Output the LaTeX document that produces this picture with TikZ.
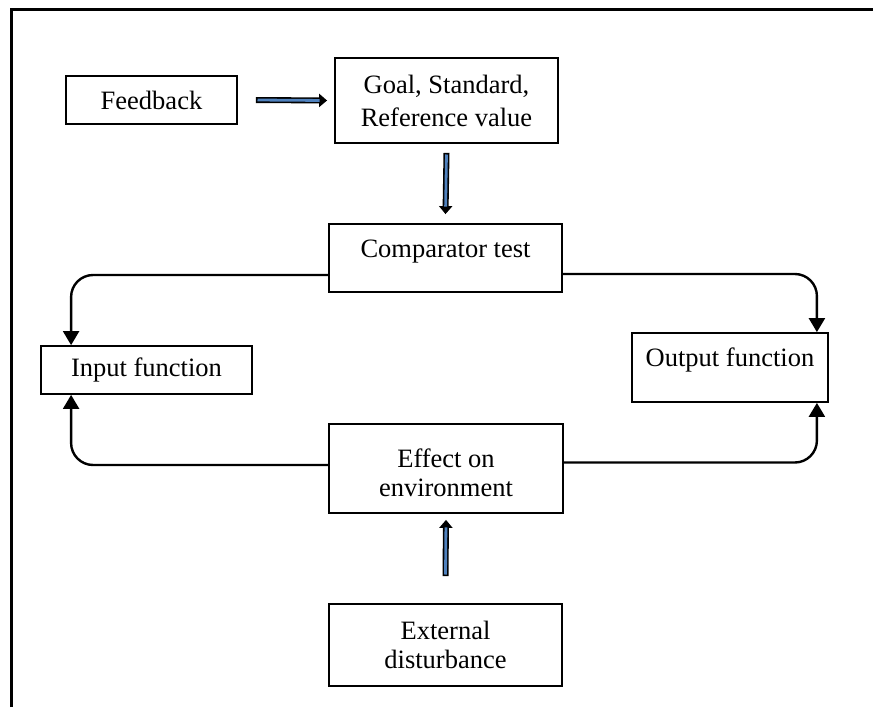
\documentclass[tikz,border=0pt]{standalone}
\usepackage{fontspec}
\setmainfont{Liberation Serif}
\usetikzlibrary{arrows.meta}
\definecolor{shaftblue}{HTML}{4F81BD}
\begin{document}
\begin{tikzpicture}[x=1pt,y=-1pt,
  box/.style={draw, line width=1.8pt, inner sep=0pt, align=center,
    font=\fontsize{26.5}{29}\selectfont},
  txt/.style={inner sep=0pt, align=center, font=\fontsize{26.5}{29}\selectfont},
  loop/.style={line width=2.4pt, rounded corners=22pt,
    -{Triangle[length=14pt,width=16pt]}},
  blue arrow/.style={line width=6pt, draw=black,
    -{Triangle[length=8pt,width=13pt]},
    postaction={draw=shaftblue, line width=2.8pt, arrows=-,
      shorten >=7.5pt, shorten <=1.6pt}},
]
\useasboundingbox (0,0) rectangle (873,707);

% outer frame (open to the right and bottom)
\draw[line width=2.8pt] (11.3,707) -- (11.3,9.3) -- (873,9.3);

% boxes
\node[box, minimum width=171pt, minimum height=48pt] (fb) at (151.5,100) {Feedback};
\node[box, minimum width=223pt, minimum height=85pt,
  font=\fontsize{26.5}{33}\selectfont] (goal) at (446.5,100.5)
  {Goal, Standard,\\Reference value};
\node[box, minimum width=233pt, minimum height=68pt] (comp) at (445.5,258) {};
\node[txt] (comptext) at (445.5,252) {Comparator test};
\node[box, minimum width=211pt, minimum height=48pt] (input) at (146.5,370) {Input function};
\node[box, minimum width=196pt, minimum height=69pt] (output) at (730,367.5) {};
\node[txt] (outtext) at (730,360) {Output function};
\node[box, minimum width=234pt, minimum height=89pt] (effect) at (446,468.5) {};
\node[txt] (efftext) at (446,473) {Effect on\\environment};
\node[box, minimum width=233pt, minimum height=82pt] (ext) at (445.5,645)
  {External\\disturbance};

% blue block arrows
\draw[blue arrow] ([xshift=18pt]fb.east) -- ([xshift=-7pt]goal.west);
\draw[blue arrow] ([yshift=-9pt]goal.south) -- ([yshift=9pt]comp.north);
\draw[blue arrow] ([yshift=27pt]ext.north) -- ([yshift=-6pt]effect.south);

% control loop connectors
\draw[loop] ([yshift=-17pt]comp.west) -| ([xshift=31pt]input.north west);
\draw[loop] ([yshift=-16pt]comp.east) -| ([xshift=-12pt]output.north east);
\draw[loop] ([yshift=3.5pt]effect.west) -| ([xshift=31pt]input.south west);
\draw[loop] ([yshift=6pt]effect.east) -| ([xshift=-12pt]output.south east);
\end{tikzpicture}
\end{document}
